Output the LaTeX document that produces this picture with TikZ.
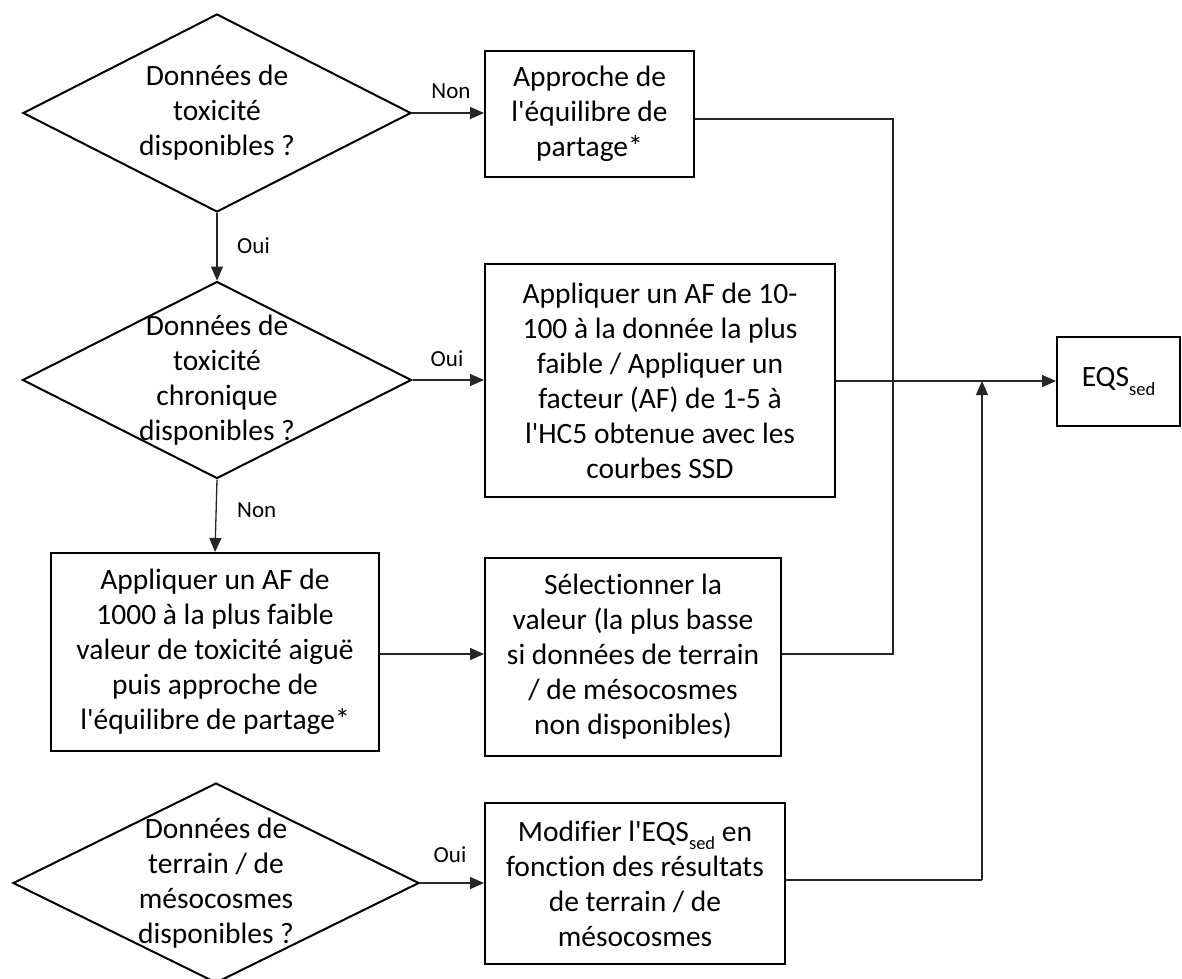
\documentclass[tikz,border=0pt]{standalone}
\usepackage{fontspec}
\setmainfont{Carlito}[Ligatures={TeXOff,NoCommon}]
\usetikzlibrary{shapes.geometric,arrows.meta,calc}
\newcommand\subtxt[1]{\raisebox{-0.28em}{\fontsize{18.5}{18.5}\selectfont #1}}
\tikzset{
  boxnode/.style={draw=black,line width=2pt,rectangle,inner sep=0pt,align=center,font=\fontsize{29.5}{35}\selectfont},
  dianode/.style={draw=black,line width=2pt,diamond,inner sep=0pt},
  diatext/.style={align=center,inner sep=0pt,font=\fontsize{29.5}{35}\selectfont},
  conn/.style={line width=1.3pt,draw=black!85},
  arr/.style={conn,-{Triangle[length=14pt,width=12pt]}},
  lbl/.style={font=\fontsize{23}{26}\selectfont,inner sep=0pt}
}
\begin{document}
\begin{tikzpicture}[x=1pt,y=-1pt]
\useasboundingbox (0,0) rectangle (1182,978);
\clip (0,0) rectangle (1182,978);
\fill[white] (0,0) rectangle (1182,978);

% decisions
\node[dianode,minimum width=388pt,minimum height=198pt] (d1) at (217,113) {};
\node[diatext] (d1t) at (d1.center) {Données de\\toxicité\\disponibles ?};
\node[dianode,minimum width=389pt,minimum height=197pt] (d2) at (217,380) {};
\node[diatext] (d2t) at (d2.center) {Données de\\toxicité\\chronique\\disponibles ?};
\node[dianode,minimum width=406pt,minimum height=200pt] (d3) at (216,883) {};
\node[diatext] (d3t) at (d3.center) {Données de\\terrain / de\\mésocosmes\\disponibles ?};

% boxes
\node[boxnode,minimum width=209pt,minimum height=126pt] (b1) at (589.5,114) {Approche de\\l'équilibre de\\partage*};
\node[boxnode,minimum width=350pt,minimum height=233pt] (b2) at (660,380.5) {Appliquer un AF de 10-\\100 à la donnée la plus\\faible / Appliquer un\\facteur (AF) de 1-5 à\\l'HC5 obtenue avec les\\courbes SSD};
\node[boxnode,minimum width=328pt,minimum height=198pt] (b3) at (215,652) {Appliquer un AF de\\1000 à la plus faible\\valeur de toxicité aiguë\\puis approche de\\l'équilibre de partage*};
\node[boxnode,minimum width=296pt,minimum height=198pt] (b4) at (633,657) {Sélectionner la\\valeur (la plus basse\\si données de terrain\\/ de mésocosmes\\non disponibles)};
\node[boxnode,minimum width=300pt,minimum height=161pt] (b5) at (635,883.5) {Modifier l'EQS\subtxt{sed} en\\fonction des résultats\\de terrain / de\\mésocosmes};
\node[boxnode,minimum width=123pt,minimum height=89pt] (eqs) at (1118.5,381.5) {EQS\subtxt{sed}};

% junction coordinates
\coordinate (j1) at (893,119);
\coordinate (j2) at (893,654);
\coordinate (j3) at (982,880);
\coordinate (j4) at (982,381);

% connectors
\draw[arr] (d1.east) -- (d1.east -| b1.west);
\node[lbl] (n1) at (451,91) {Non};
\draw[arr] (d1.south) -- (d2.north);
\node[lbl,anchor=west] (o1) at (237,246) {Oui};
\draw[arr] (d2.east) -- (d2.east -| b2.west);
\node[lbl] (o2) at (447,359) {Oui};
\draw[arr] (d2.south) -- (b3.north);
\node[lbl,anchor=west] (n2) at (237,510) {Non};
\draw[arr] (b3.east |- j2) -- (b4.west |- j2);
\draw[arr] (d3.east) -- (d3.east -| b5.west);
\node[lbl] (o3) at (450,855) {Oui};

\draw[conn] (j1 -| b1.east) -- (j1) -- (j2) -- (j2 -| b4.east);
\draw[arr] (j4 -| b2.east) -- (j4 -| eqs.west);
\draw[conn] (j3 -| b5.east) -- (j3);
\draw[arr] (j3) -- (j4);
\end{tikzpicture}
\end{document}
